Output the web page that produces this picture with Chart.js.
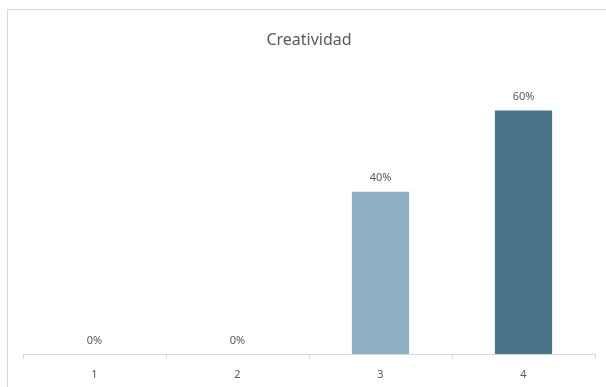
<!DOCTYPE html>
<html>
<head>
<meta charset="utf-8">
<script src="https://cdn.jsdelivr.net/npm/chart.js@4"></script>
<style>
html,body{margin:0;padding:0;background:#fff;}
#wrap{position:relative;width:606px;height:387px;overflow:hidden;}
#frame{position:absolute;left:7px;top:9px;width:800px;height:600px;border-left:1px solid #d9d9d9;border-top:1px solid #d9d9d9;pointer-events:none;}
canvas{position:absolute;left:0;top:0;}
</style>
</head>
<body>
<div id="wrap">
<div id="frame"></div>
<canvas id="c" width="606" height="387"></canvas>
</div>
<script>
const categories = ['1', '2', '3', '4'];
const values = [0, 0, 0.40, 0.60];
const barColors = ['#8FB0C4', '#8FB0C4', '#8FB0C4', '#4A7389'];
const valueLabels = ['0%', '0%', '40%', '60%'];
const chartTitle = 'Creatividad';

const FONT = "'Noto Sans', 'Open Sans', sans-serif";

const extras = {
  id: 'extras',
  afterDatasetsDraw(chart) {
    const ctx = chart.ctx;
    const meta = chart.getDatasetMeta(0);
    ctx.save();
    ctx.fillStyle = '#595959';
    ctx.font = "11px " + FONT;
    ctx.textAlign = 'center';
    ctx.textBaseline = 'bottom';
    meta.data.forEach((bar, i) => {
      ctx.fillText(valueLabels[i], bar.x, bar.y - 8);
    });
    const ca = chart.chartArea;
    ctx.font = "16px " + FONT;
    ctx.fillStyle = '#595959';
    ctx.textBaseline = 'middle';
    ctx.fillText(chartTitle, (ca.left + ca.right) / 2, 40);
    ctx.restore();
  }
};

new Chart(document.getElementById('c'), {
  type: 'bar',
  data: {
    labels: categories,
    datasets: [{
      data: values,
      backgroundColor: barColors,
      borderWidth: 0,
      categoryPercentage: 1.0,
      barPercentage: 0.4
    }]
  },
  options: {
    responsive: false,
    animation: false,
    layout: { padding: { left: 23, right: 11, top: 70, bottom: 0 } },
    plugins: { legend: { display: false }, tooltip: { enabled: false }, title: { display: false } },
    scales: {
      y: { display: false, min: 0, max: 0.7 },
      x: {
        offset: true,
        afterFit(scale) { scale.height = 33; },
        grid: { offset: true, drawOnChartArea: false, drawTicks: true, tickLength: 5, color: '#d9d9d9' },
        border: { color: '#d9d9d9', width: 1 },
        ticks: { color: '#595959', font: { family: FONT, size: 11, lineHeight: 1.0 }, padding: 10 }
      }
    }
  },
  plugins: [extras]
});
</script>
</body>
</html>
